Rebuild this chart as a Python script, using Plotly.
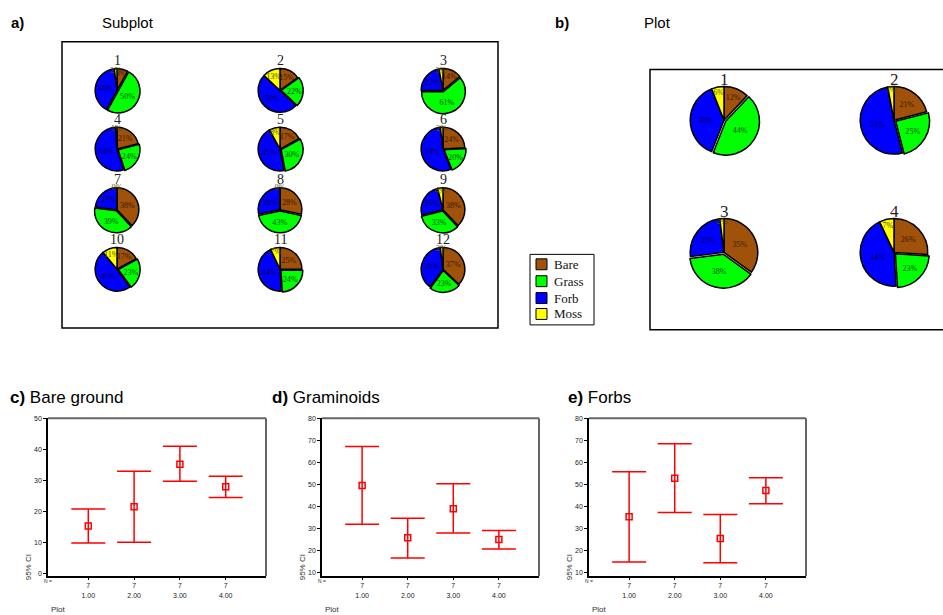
import plotly.graph_objects as go

W, H = 943, 615

# ---------------- data ----------------
categories = ["Bare", "Grass", "Forb", "Moss"]
colors = ["#a0520a", "#00ff00", "#0000ff", "#ffff00"]
text_colors = ["#3a1a00", "#005000", "#000050", "#505000"]

subplot_ids = [str(i) for i in range(1, 13)]
subplot_bare = [8, 15, 14, 21, 17, 24, 38, 28, 38, 17, 25, 37]
subplot_grass = [50, 22, 61, 24, 30, 20, 39, 43, 33, 23, 24, 23]
subplot_forb = [40, 50, 22, 54, 45, 54, 23, 28, 25, 49, 44, 38]
subplot_moss = [2, 13, 3, 1, 8, 2, 0, 0, 4, 11, 7, 2]

plot_ids = ["1", "2", "3", "4"]
plot_bare = [12, 21, 35, 26]
plot_grass = [44, 25, 38, 23]
plot_forb = [38, 51, 25, 44]
plot_moss = [6, 3, 2, 7]

ci_x = [1, 2, 3, 4]
ci_ticks = ["1.00", "2.00", "3.00", "4.00"]
ci_n = ["7", "7", "7", "7"]

bare_mean = [15.2, 21.4, 35.2, 27.9]
bare_low = [9.7, 10.0, 29.7, 24.4]
bare_high = [20.7, 32.9, 41.0, 31.3]

gram_mean = [49.6, 25.9, 39.1, 25.1]
gram_low = [32.0, 16.8, 28.1, 20.8]
gram_high = [67.2, 34.7, 50.4, 29.2]

forb_mean = [35.4, 52.9, 25.6, 47.3]
forb_low = [14.9, 37.4, 14.6, 41.3]
forb_high = [55.8, 68.5, 36.5, 53.1]

# ---------------- helpers ----------------
def px(x):
    return x / W

def py(y):
    return 1 - y / H

fig = go.Figure()
annotations = []
shapes = []

PULL = 0.06
SERIF = "Liberation Serif, Times New Roman, serif"
SANS = "Liberation Sans, Arial, sans-serif"


def ann(x, y, text, size, family=SANS, color="black", xanchor="center", **kw):
    annotations.append(dict(x=px(x), y=py(y), xref="paper", yref="paper", text=text,
                            xanchor=xanchor, yanchor="middle", showarrow=False,
                            font=dict(family=family, size=size, color=color), **kw))


def add_pie(vals, cx, cy, r, label, fsize, lsize, loff):
    rr = r * (1 + PULL)
    fig.add_trace(go.Pie(
        labels=categories, values=vals, sort=False, direction="clockwise",
        rotation=0, pull=[0, PULL, 0, 0],
        marker=dict(colors=colors, line=dict(color="black", width=1.5)),
        texttemplate="%{percent:.0%}", textposition="inside",
        insidetextorientation="horizontal",
        textfont=dict(family=SERIF, size=fsize, color=text_colors),
        domain=dict(x=[px(cx - rr), px(cx + rr)], y=[py(cy + rr), py(cy - rr)]),
        showlegend=False, hoverinfo="label+percent",
    ))
    ann(cx, cy - loff, label, lsize, family=SERIF, color="#222")


small_cx = [117, 280, 443]
small_cy = [87, 146, 207, 267]
for i in range(12):
    vals = [subplot_bare[i], subplot_grass[i], subplot_forb[i], subplot_moss[i]]
    add_pie(vals, small_cx[i % 3], small_cy[i // 3], 22, subplot_ids[i], 9, 14, 30)

big_cx = [724, 894]
big_cy = [117, 250]
for i in range(4):
    vals = [plot_bare[i], plot_grass[i], plot_forb[i], plot_moss[i]]
    add_pie(vals, big_cx[i % 2], big_cy[i // 2], 34, plot_ids[i], 11, 17, 41)

# boxes
shapes.append(dict(type="rect", xref="paper", yref="paper", x0=px(62), x1=px(498),
                   y0=py(326), y1=py(38), line=dict(color="black", width=1.5)))
shapes.append(dict(type="rect", xref="paper", yref="paper", x0=px(650), x1=px(970),
                   y0=py(328), y1=py(66), line=dict(color="black", width=1.5)))

# legend box
shapes.append(dict(type="rect", xref="paper", yref="paper", x0=px(530), x1=px(594),
                   y0=py(323), y1=py(252), line=dict(color="black", width=1)))
leg_y = [262, 279, 296, 312]
for cat, col, ly in zip(categories, colors, leg_y):
    shapes.append(dict(type="rect", xref="paper", yref="paper", x0=px(536), x1=px(547),
                       y0=py(ly + 5.5), y1=py(ly - 5.5), fillcolor=col,
                       line=dict(color="black", width=1)))
    ann(552, ly, cat, 13, family=SERIF, color="#111", xanchor="left")

# panel titles
ann(9, 19, "<b>a)</b>", 15, xanchor="left")
ann(100, 19, "Subplot", 15, xanchor="left")
ann(553, 19, "<b>b)</b>", 15, xanchor="left")
ann(642, 19, "Plot", 15, xanchor="left")
ann(8, 396, "<b>c)</b> Bare ground", 17, xanchor="left")
ann(270, 396, "<b>d)</b> Graminoids", 17, xanchor="left")
ann(566, 396, "<b>e)</b> Forbs", 17, xanchor="left")

# ---------------- CI charts ----------------
panels = [
    ("x", "y", bare_mean, bare_low, bare_high, 48, 266, [-1, 50], list(range(0, 51, 10))),
    ("x2", "y2", gram_mean, gram_low, gram_high, 322, 539, [8.5, 80], list(range(10, 81, 10))),
    ("x3", "y3", forb_mean, forb_low, forb_high, 589, 806, [8.5, 80], list(range(10, 81, 10))),
]
TOP, BOT = 417, 576
layout_axes = {}
for k, (xa, ya, mean, low, high, x0, x1, yr, yt) in enumerate(panels):
    fig.add_trace(go.Scatter(
        x=ci_x, y=mean, xaxis=xa, yaxis=ya, mode="markers",
        marker=dict(symbol="square-open", size=6, color="#ff0000", line=dict(width=1.5)),
        error_y=dict(type="data", symmetric=False,
                     array=[h - m for h, m in zip(high, mean)],
                     arrayminus=[m - l for m, l in zip(mean, low)],
                     color="#ff0000", thickness=1.5, width=17),
        showlegend=False,
    ))
    sfx = "" if k == 0 else str(k + 1)
    layout_axes["xaxis" + sfx] = dict(
        domain=[px(x0), px(x1)], anchor=ya, range=[0.12, 4.88],
        tickvals=ci_x, ticktext=[f"{n}<br>{t}" for n, t in zip(ci_n, ci_ticks)],
        ticks="outside", ticklen=2, tickcolor="black", showgrid=False, zeroline=False,
        showline=True, linecolor="black", linewidth=1.5,
        tickfont=dict(family=SANS, size=7, color="#222"), fixedrange=True)
    layout_axes["yaxis" + sfx] = dict(
        domain=[py(BOT), py(TOP)], anchor=xa, range=yr, tickvals=yt,
        ticks="outside", ticklen=3, tickcolor="black", showgrid=False, zeroline=False,
        showline=True, linecolor="black", linewidth=1.5,
        tickfont=dict(family=SANS, size=7, color="#222"), fixedrange=True)
    # gray top/right frame
    shapes.append(dict(type="line", xref="paper", yref="paper", x0=px(x0), x1=px(x1),
                       y0=py(TOP), y1=py(TOP), line=dict(color="#666", width=2)))
    shapes.append(dict(type="line", xref="paper", yref="paper", x0=px(x1), x1=px(x1),
                       y0=py(TOP), y1=py(BOT), line=dict(color="#666", width=2)))
    ann(x0 - 20, 567, "95% CI", 8, color="#333", textangle=-90)
    ann(x0, 581, "N =", 5, color="#333")
    ann(x0 + 1, 609, "Plot", 8, color="#333", xanchor="left")

fig.update_layout(
    width=W, height=H, margin=dict(l=0, r=0, t=0, b=0),
    paper_bgcolor="white", plot_bgcolor="white",
    uniformtext=dict(minsize=8, mode="show"),
    shapes=shapes, annotations=annotations, showlegend=False,
    **layout_axes,
)

fig.write_html("out.html", config={"displayModeBar": False},
               post_script="document.body.style.margin='0';document.body.style.padding='0';")
